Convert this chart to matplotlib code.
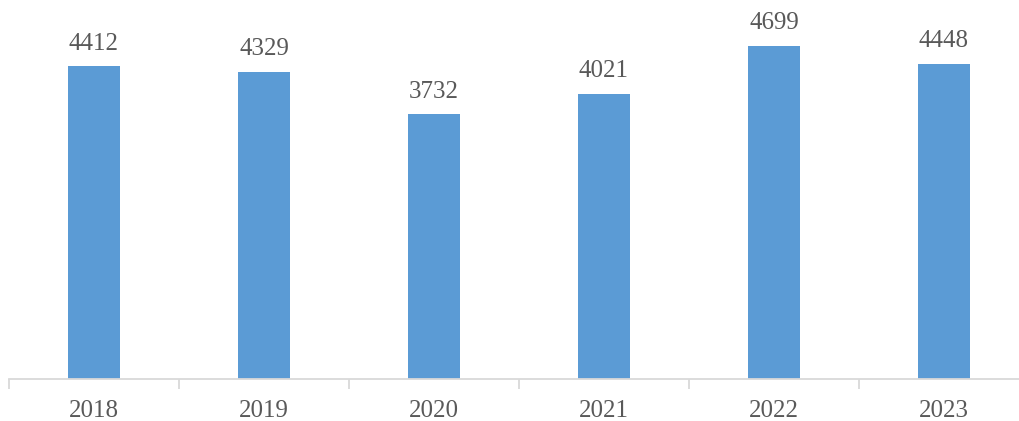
import matplotlib
matplotlib.use("Agg")
import matplotlib.pyplot as plt

years = ["2018", "2019", "2020", "2021", "2022", "2023"]
values = [4412, 4329, 3732, 4021, 4699, 4448]

W, H = 1020, 421
fig = plt.figure(figsize=(W / 100, H / 100), dpi=100)
base_y = 379
top_y = base_y - 5000 * 0.0709
left_x = 9
ax = fig.add_axes([left_x / W, (H - base_y) / H, 1020 / W, (base_y - top_y) / H])

bar_color = "#5B9BD5"
text_color = "#595959"
x = list(range(len(years)))
bars = ax.bar(x, values, width=0.31, color=bar_color, zorder=2)

ax.set_xlim(-0.5, 5.5)
ax.set_ylim(0, 5000)
for s in ["top", "right", "left"]:
    ax.spines[s].set_visible(False)
ax.spines["bottom"].set_color("#D9D9D9")
ax.spines["bottom"].set_linewidth(1.3)
ax.set_yticks([])

ax.set_xticks([i - 0.5 for i in range(len(years) + 1)])
ax.set_xticklabels([])
ax.tick_params(axis="x", which="major", length=7, width=1.3, color="#D9D9D9", direction="out")
ax.set_xticks(x, minor=True)
ax.set_xticklabels(years, minor=True, fontfamily="Liberation Serif", fontsize=18, color=text_color)
ax.tick_params(axis="x", which="minor", length=0, pad=15)

for xi, v in zip(x, values):
    ax.annotate(str(v), (xi, v), xytext=(0, 12), textcoords="offset points",
                ha="center", va="baseline", fontfamily="Liberation Serif",
                fontsize=18, color=text_color)

fig.savefig("out.png", dpi=100)
